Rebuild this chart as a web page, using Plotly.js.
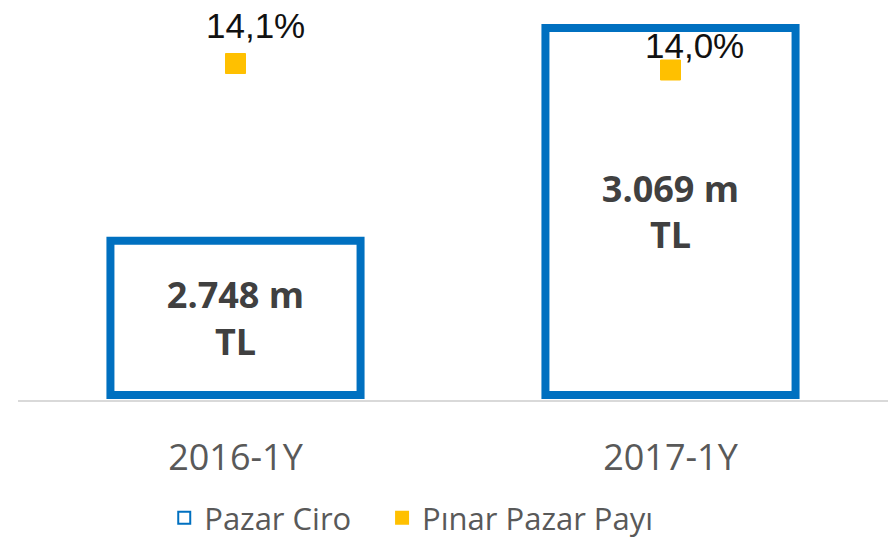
<!DOCTYPE html>
<html>
<head>
<meta charset="utf-8">
<script src="https://cdn.plot.ly/plotly-3.0.1.min.js"></script>
<style>html,body{margin:0;padding:0;background:#fff;}#chart{width:893px;height:538px;}</style>
</head>
<body>
<div id="chart"></div>
<script>
var categories = ["2016-1Y", "2017-1Y"];
var ciroValues = [2748, 3069];          // Pazar Ciro, m TL
var payValues = [14.1, 14.0];           // Pınar Pazar Payı, %
var seriesNames = ["Pazar Ciro", "Pınar Pazar Payı"];

var axisBase = 2515;

function fmtThousands(v) {
  return String(v).replace(/\B(?=(\d{3})+(?!\d))/g, ".");
}
function fmtPct(v) {
  return v.toFixed(1).replace(".", ",") + "%";
}

var barTrace = {
  type: "bar",
  name: seriesNames[0] + "\u2002\u2009\u2009",
  x: categories,
  y: ciroValues.map(function (v) { return v - axisBase; }),
  base: axisBase,
  width: 0.575,
  marker: { color: "#ffffff", line: { color: "#0070C0", width: 8 } },
  text: ciroValues.map(function (v) { return fmtThousands(v) + " m<br>TL"; }),
  textposition: "inside",
  insidetextanchor: "middle",
  textangle: 0,
  insidetextfont: { family: "Open Sans", size: 36, color: "#404040", weight: 700 },
  hoverinfo: "skip"
};

var markerTrace = {
  type: "scatter",
  mode: "markers",
  name: seriesNames[1],
  x: categories,
  y: payValues,
  yaxis: "y2",
  marker: { symbol: "square", size: 20, color: "#FFC000", line: { color: "#FFC000", width: 1 } },
  hoverinfo: "skip"
};

var labelShifts = [[20, 38], [24, 25]];
var annotations = payValues.map(function (v, i) {
  return {
    x: categories[i], y: v, xref: "x", yref: "y2",
    text: fmtPct(v), showarrow: false,
    xshift: labelShifts[i][0], yshift: labelShifts[i][1],
    font: { family: "Liberation Sans", size: 35, color: "#111111" }
  };
});

var layout = {
  width: 893, height: 538,
  margin: { l: 18, r: 5, t: 0, b: 138 },
  paper_bgcolor: "#ffffff", plot_bgcolor: "#ffffff",
  showlegend: true,
  legend: {
    orientation: "h", x: 0.452, xanchor: "center",
    yref: "container", y: 0.037, yanchor: "middle",
    font: { family: "Open Sans", size: 31, color: "#595959" },
    itemsizing: "constant", traceorder: "normal"
  },
  xaxis: {
    type: "category",
    showline: true, linecolor: "#d9d9d9", linewidth: 2,
    showgrid: false, zeroline: false, ticks: "",
    tickfont: { family: "Open Sans", size: 36, color: "#595959" },
    ticklabelstandoff: 25
  },
  yaxis: {
    range: [2507.5, 3111.3], showgrid: false, zeroline: false,
    showticklabels: false, showline: false
  },
  yaxis2: {
    overlaying: "y", side: "right", range: [8.923, 15.077],
    showgrid: false, zeroline: false, showticklabels: false, showline: false
  },
  annotations: annotations,
  bargap: 0.425
};

Plotly.newPlot("chart", [barTrace, markerTrace], layout, { displayModeBar: false, staticPlot: true });
</script>
</body>
</html>
